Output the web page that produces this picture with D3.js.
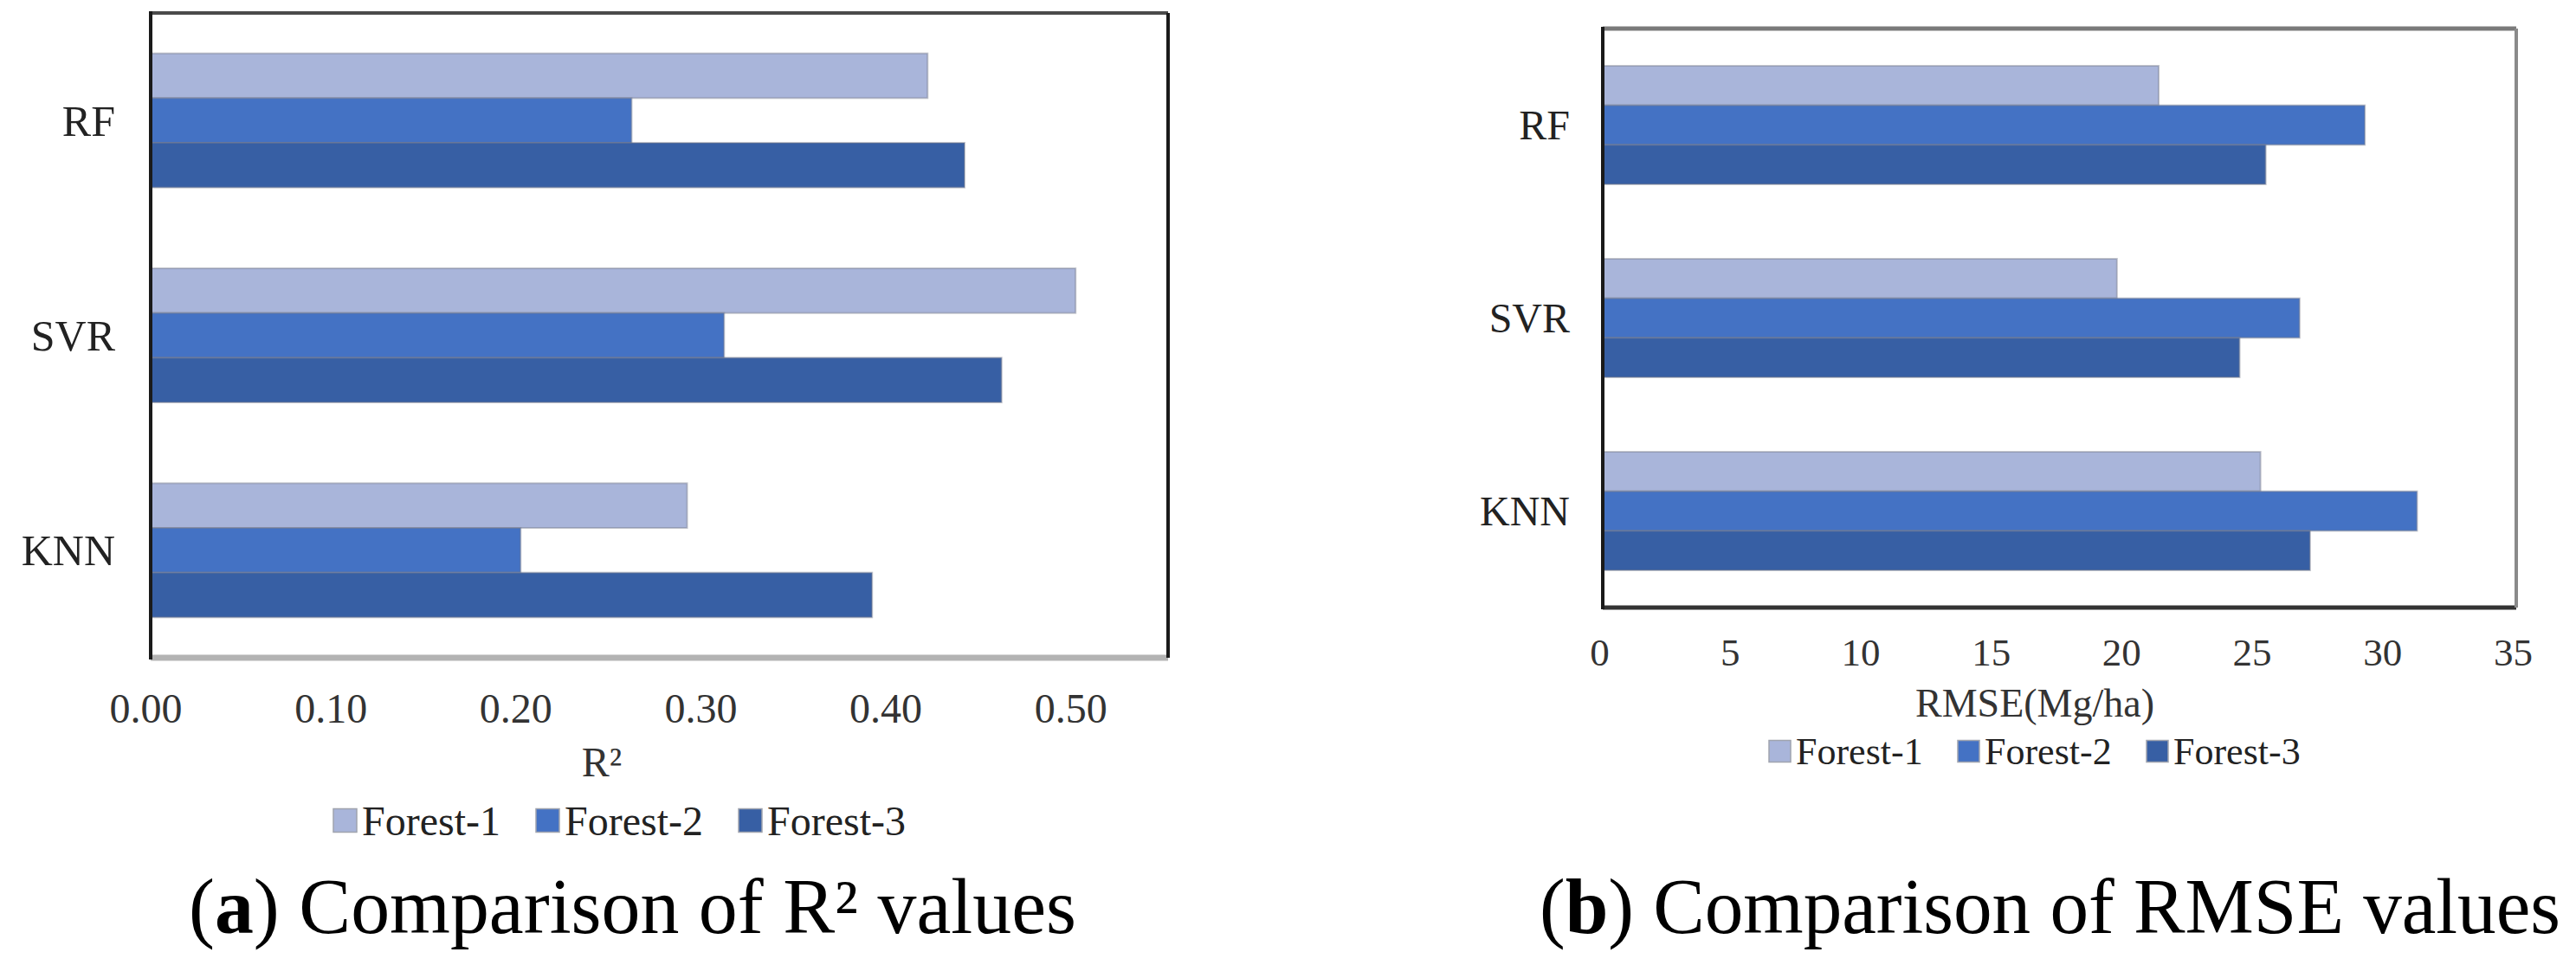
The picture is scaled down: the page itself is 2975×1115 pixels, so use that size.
<!DOCTYPE html>
<html>
<head>
<meta charset="utf-8">
<script src="https://cdn.jsdelivr.net/npm/d3@7"></script>
<style>
  body { margin: 0; background: #fff; }
  svg { display: block; font-family: "Liberation Serif", "Times New Roman", serif; }
</style>
</head>
<body>
<svg id="chart" width="2975" height="1115"></svg>
<script>
const categories = ["RF", "SVR", "KNN"]
const seriesNames = ["Forest-1", "Forest-2", "Forest-3"]
const seriesColors = ["#a9b5da", "#4472c4", "#375fa4"]

const r2Forest1 = [0.42, 0.50, 0.29]
const r2Forest2 = [0.26, 0.31, 0.20]
const r2Forest3 = [0.44, 0.46, 0.39]
const r2Ticks = [0, 0.1, 0.2, 0.3, 0.4, 0.5]

const rmseForest1 = [21.3, 19.7, 25.2]
const rmseForest2 = [29.2, 26.7, 31.2]
const rmseForest3 = [25.4, 24.4, 27.1]
const rmseTicks = [0, 5, 10, 15, 20, 25, 30, 35]

const svg = d3.select("#chart")

function drawPanel(o) {
    const g = svg.append("g")

    const rows = categories.map((c, i) => ({
        name: c,
        values: o.series.map((s, j) => ({ key: seriesNames[j], value: s[i], color: seriesColors[j] }))
    }))

    const x = d3.scaleLinear()
        .domain([0, o.max])
        .range([o.left, o.right])

    const y = d3.scaleBand()
        .domain(categories)
        .range([o.top, o.bottom])
        .paddingInner(o.pad)
        .paddingOuter(o.pad / 2)

    const ySub = d3.scaleBand()
        .domain(seriesNames)
        .range([0, y.bandwidth()])

    // plot background
    g.append("rect")
        .attr("x", o.left).attr("y", o.top)
        .attr("width", o.right - o.left).attr("height", o.bottom - o.top)
        .attr("fill", "#fff")

    // bars
    g.append("g")
        .selectAll("g")
        .data(rows)
        .join("g")
        .attr("transform", d => `translate(0,${y(d.name)})`)
        .selectAll("rect")
        .data(d => d.values)
        .join("rect")
        .attr("x", x(0))
        .attr("y", d => ySub(d.key))
        .attr("width", d => x(d.value) - x(0))
        .attr("height", ySub.bandwidth())
        .attr("fill", d => d.color)
        .attr("stroke", "rgba(120,125,140,0.45)")
        .attr("stroke-width", 2)

    // frame
    const f = o.frame
    const line = (x1, y1, x2, y2, s) => g.append("line")
        .attr("x1", x1).attr("y1", y1).attr("x2", x2).attr("y2", y2)
        .attr("stroke", s[0]).attr("stroke-width", s[1])
    line(o.left, o.top, o.right, o.top, f.top)
    line(o.left, o.bottom, o.right, o.bottom, f.bottom)
    line(o.right, o.top, o.right, o.bottom, f.right)
    line(o.left, o.top - 2, o.left, o.bottom + 2, f.left)

    // value axis
    g.append("g")
        .attr("transform", `translate(0,${o.bottom})`)
        .call(d3.axisBottom(x).tickValues(o.ticks).tickFormat(o.fmt).tickSize(0))
        .call(a => a.select(".domain").remove())
        .call(a => a.selectAll("text")
            .attr("y", o.tickGap).attr("dy", "0.35em").attr("dx", o.tickDx)
            .attr("font-size", o.tickSize).attr("fill", "#333")
            .attr("font-family", "Liberation Serif"))

    // category axis
    g.append("g")
        .attr("transform", `translate(${o.left},0)`)
        .call(d3.axisLeft(y).tickSize(0).tickPadding(o.catPad))
        .call(a => a.select(".domain").remove())
        .call(a => a.selectAll("text")
            .attr("dy", "0.35em")
            .attr("font-size", o.catSize).attr("fill", "#222")
            .attr("font-family", "Liberation Serif"))

    // axis title
    g.append("text")
        .attr("x", o.titleX).attr("y", o.titleY)
        .attr("dy", "0.35em")
        .attr("text-anchor", "middle")
        .attr("font-size", o.titleSize).attr("fill", "#333")
        .text(o.title)

    // legend
    const lg = g.append("g")
        .selectAll("g")
        .data(seriesNames)
        .join("g")
        .attr("transform", (d, i) => `translate(${o.legendX + i * o.legendStep},${o.legendY})`)
    lg.append("rect")
        .attr("x", 0).attr("y", -o.sq / 2)
        .attr("width", o.sq).attr("height", o.sq)
        .attr("fill", (d, i) => seriesColors[i])
        .attr("stroke", "#a0a4ae").attr("stroke-width", 1.5)
    lg.append("text")
        .attr("x", o.sq + 6).attr("dy", "0.35em")
        .attr("font-size", o.legendSize).attr("fill", "#222")
        .text(d => d)

    // caption
    const cap = g.append("text")
        .attr("x", o.capX).attr("y", 1078)
        .attr("font-size", 90).attr("fill", "#000")
        .attr("textLength", o.capW).attr("lengthAdjust", "spacingAndGlyphs")
    cap.append("tspan").text("(")
    cap.append("tspan").attr("font-weight", "bold").text(o.capLetter)
    cap.append("tspan").text(") " + o.caption)
}

drawPanel({
    series: [r2Forest1, r2Forest2, r2Forest3],
    max: 0.55, ticks: r2Ticks, fmt: d3.format(".2f"),
    left: 174, right: 1349, top: 15, bottom: 760, pad: 0.376,
    frame: { top: ["#4a4a4a", 4], bottom: ["#b3b3b3", 7], right: ["#1a1a1a", 4], left: ["#1a1a1a", 4] },
    tickGap: 58, tickDx: -6, tickSize: 48,
    catPad: 41, catSize: 50,
    title: "R²", titleX: 695, titleY: 880, titleSize: 48,
    legendX: 385, legendY: 948, legendStep: 234, sq: 27, legendSize: 48,
    capX: 218, capW: 1025, capLetter: "a", caption: "Comparison of R² values"
})

drawPanel({
    series: [rmseForest1, rmseForest2, rmseForest3],
    max: 35, ticks: rmseTicks, fmt: d3.format("d"),
    left: 1851, right: 2906, top: 33, bottom: 702, pad: 0.386,
    frame: { top: ["#7a7a7a", 5], bottom: ["#333", 5], right: ["#8a8a8a", 4], left: ["#1a1a1a", 4] },
    tickGap: 51, tickDx: -4, tickSize: 45,
    catPad: 38, catSize: 48,
    title: "RMSE(Mg/ha)", titleX: 2350, titleY: 812, titleSize: 46,
    legendX: 2043, legendY: 868, legendStep: 218, sq: 25, legendSize: 44,
    capX: 1778, capW: 1179, capLetter: "b", caption: "Comparison of RMSE values"
})
</script>
</body>
</html>
